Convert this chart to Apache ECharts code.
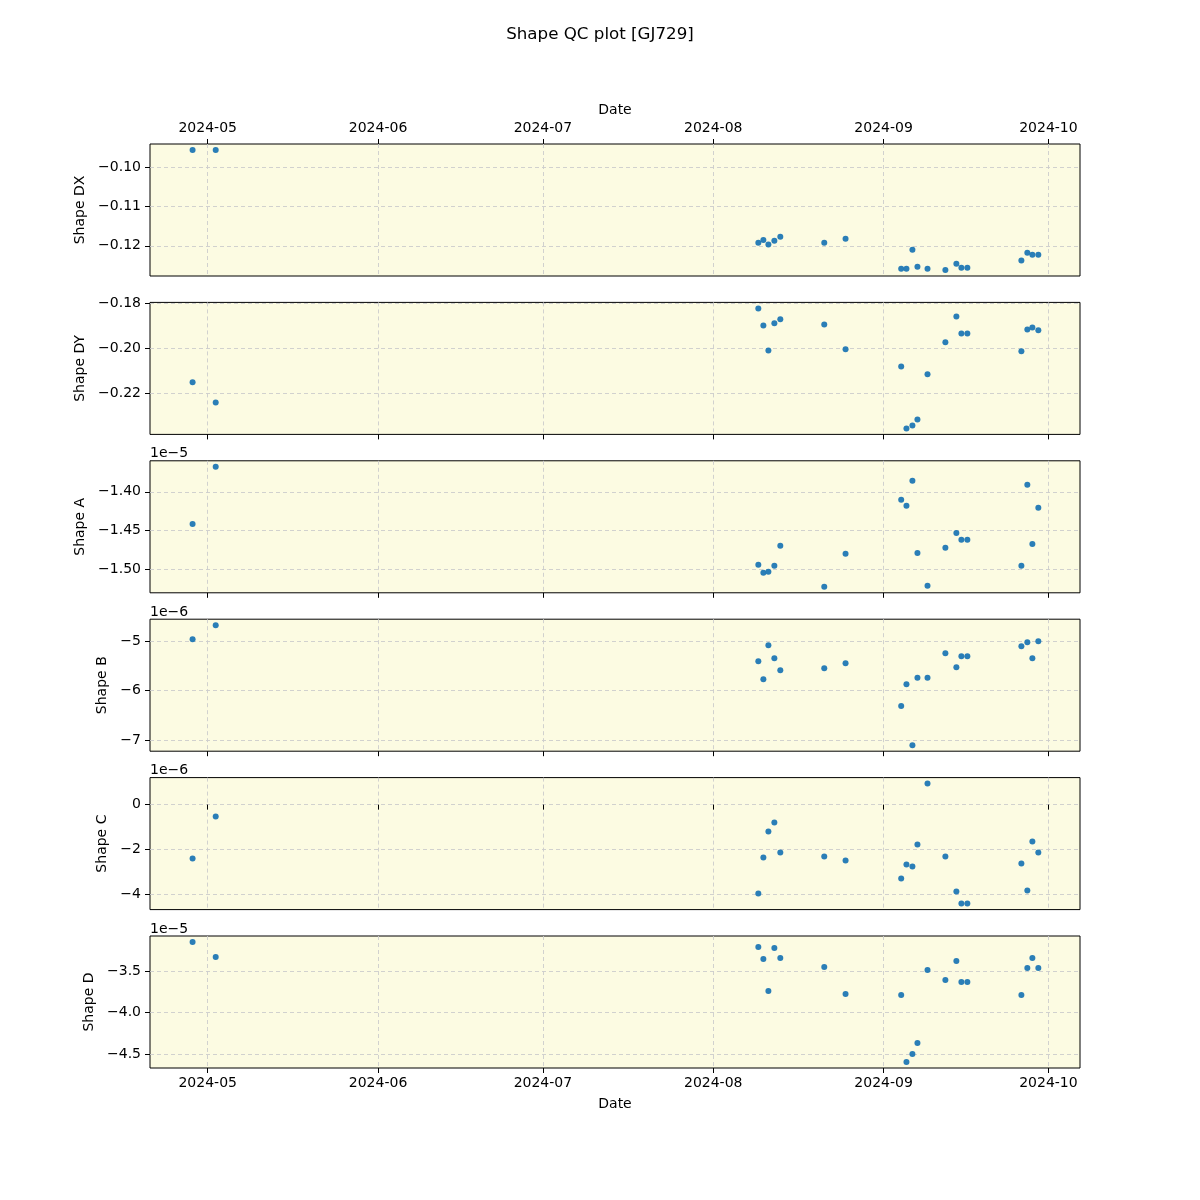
<!DOCTYPE html>
<html><head><meta charset="utf-8">
<script src="https://cdn.jsdelivr.net/npm/echarts@6/dist/echarts.min.js"></script>
<style>html,body{margin:0;padding:0;background:#fff}#c{width:1200px;height:1200px}</style>
</head><body><div id="c"></div>
<script>
// ---- data ----
const dates = ['2024-04-28T06:00','2024-05-02T11:00','2024-08-09T05:00','2024-08-10T03:00','2024-08-11T01:00','2024-08-12T03:00','2024-08-13T05:00','2024-08-21T05:00','2024-08-25T02:00','2024-09-04T05:00','2024-09-05T04:00','2024-09-06T06:00','2024-09-07T04:00','2024-09-09T00:00','2024-09-12T06:00','2024-09-14T06:00','2024-09-15T04:00','2024-09-16T06:00','2024-09-26T02:00','2024-09-27T04:00','2024-09-28T02:00','2024-09-29T04:00'];
const shapeDX = [-0.0955,-0.0955,-0.1192,-0.1185,-0.1197,-0.1187,-0.1177,-0.1192,-0.1182,-0.1259,-0.1259,-0.1210,-0.1254,-0.1259,-0.1262,-0.1246,-0.1256,-0.1256,-0.1238,-0.1218,-0.1223,-0.1223];
const shapeDY = [-0.2152,-0.2242,-0.1821,-0.1897,-0.2009,-0.1888,-0.1870,-0.1893,-0.2004,-0.2081,-0.2358,-0.2345,-0.2318,-0.2116,-0.1973,-0.1857,-0.1933,-0.1933,-0.2013,-0.1915,-0.1906,-0.1919];
const shapeA = [-1.4414,-1.3678,-1.4942,-1.5045,-1.5032,-1.4955,-1.4697,-1.5225,-1.4800,-1.4103,-1.4180,-1.3858,-1.4788,-1.5212,-1.4723,-1.4530,-1.4620,-1.4620,-1.4955,-1.3910,-1.4672,-1.4206]; // x1e-5
const shapeB = [-4.960,-4.677,-5.404,-5.768,-5.081,-5.343,-5.586,-5.545,-5.444,-6.307,-5.869,-7.099,-5.740,-5.740,-5.242,-5.525,-5.303,-5.303,-5.101,-5.020,-5.343,-5.000]; // x1e-6
const shapeC = [-2.400,-0.533,-3.956,-2.356,-1.200,-0.800,-2.133,-2.311,-2.489,-3.289,-2.667,-2.756,-1.778,0.933,-2.311,-3.867,-4.400,-4.400,-2.622,-3.822,-1.644,-2.133]; // x1e-6
const shapeD = [-3.152,-3.332,-3.212,-3.356,-3.740,-3.224,-3.344,-3.452,-3.776,-3.788,-4.592,-4.497,-4.364,-3.488,-3.608,-3.380,-3.632,-3.632,-3.788,-3.464,-3.344,-3.464]; // x1e-5

const panelNames = ['Shape DX','Shape DY','Shape A','Shape B','Shape C','Shape D'];
const panelValues = [shapeDX, shapeDY, shapeA, shapeB, shapeC, shapeD];
const offsetTexts = ['', '', '1e\u22125', '1e\u22126', '1e\u22126', '1e\u22125'];
const yTicks = [[-0.12,-0.11,-0.10],[-0.22,-0.20,-0.18],[-1.50,-1.45,-1.40],[-7,-6,-5],[-4,-2,0],[-4.5,-4.0,-3.5]];
const yDecimals = [2,2,2,0,0,1];
const xTickDates = ['2024-05-01','2024-06-01','2024-07-01','2024-08-01','2024-09-01','2024-10-01'];
const xTickLabels = ['2024-05','2024-06','2024-07','2024-08','2024-09','2024-10'];
const xRange = ['2024-04-20T12:00','2024-10-06T18:00'];
const titleText = 'Shape QC plot [GJ729]';
const xName = 'Date';

// ---- layout ----
const FONT = 'DejaVu Sans';
const LEFT = 150, WIDTH = 930, TOP0 = 144, H = 132, STEP = 158.4;
const nameGaps = [61,61,61,39,39,51];
const ts = s => Date.parse(s + (s.length > 10 ? ':00Z' : 'T00:00:00Z'));
const xVals = dates.map(ts);
const xTicks = xTickDates.map(ts);
const xLabelOf = v => { const i = xTicks.indexOf(v); return i >= 0 ? xTickLabels[i] : ''; };
const fmtY = d => v => (v < 0 ? '\u2212' : '') + Math.abs(v).toFixed(d);

const grids = [], xAxes = [], yAxes = [], series = [], graphics = [];
for (let i = 0; i < 6; i++) {
  const top = TOP0 + STEP * i;
  grids.push({left: LEFT, top: top, width: WIDTH, height: H, show: true,
    backgroundColor: '#fcfbe2', borderColor: '#000', borderWidth: 1, containLabel: false});
  const isFirst = i === 0, isLast = i === 5;
  xAxes.push({type: 'value', gridIndex: i, min: ts(xRange[0]), max: ts(xRange[1]),
    position: isFirst ? 'top' : 'bottom',
    name: (isFirst || isLast) ? xName : '', nameLocation: 'middle', nameGap: isFirst ? 27 : 29,
    nameTextStyle: {fontFamily: FONT, fontSize: 14, color: '#000'},
    axisLine: {show: false},
    axisTick: {show: true, length: 5, inside: false, lineStyle: {color: '#000'}, customValues: xTicks},
    axisLabel: {show: isFirst || isLast, customValues: xTicks, formatter: xLabelOf,
      fontFamily: FONT, fontSize: 14, color: '#000', margin: isFirst ? 9 : 8},
    splitLine: {show: true, lineStyle: {color: '#cccccc', type: [4, 3], width: 0.9}}
  });
  const vals = panelValues[i];
  yAxes.push({type: 'value', gridIndex: i, scale: true,
    min: v => v.min - 0.05 * (v.max - v.min), max: v => v.max + 0.05 * (v.max - v.min),
    name: panelNames[i], nameLocation: 'middle', nameRotate: 90, nameGap: nameGaps[i],
    nameTextStyle: {fontFamily: FONT, fontSize: 14, color: '#000'},
    axisLine: {show: false},
    axisTick: {show: true, length: 5, lineStyle: {color: '#000'}, customValues: yTicks[i]},
    axisLabel: {customValues: yTicks[i], formatter: fmtY(yDecimals[i]),
      fontFamily: FONT, fontSize: 14, color: '#000', margin: 9},
    splitLine: {show: true, lineStyle: {color: '#cccccc', type: [4, 3], width: 0.9}}
  });
  series.push({type: 'scatter', xAxisIndex: i, yAxisIndex: i, symbolSize: 6,
    itemStyle: {color: '#1f77b4', opacity: 0.95},
    data: xVals.map((x, k) => [x, vals[k]])});
  if (offsetTexts[i]) {
    graphics.push({type: 'text', left: LEFT, top: top - 14,
      style: {text: offsetTexts[i], font: '14px "DejaVu Sans"', fill: '#000'}});
  }
}

const chart = echarts.init(document.getElementById('c'), null, {renderer: 'canvas'});
chart.setOption({
  animation: false,
  backgroundColor: '#fff',
  title: {text: titleText, left: 'center', top: 21,
    textStyle: {fontFamily: FONT, fontSize: 16.7, fontWeight: 'normal', color: '#000'}},
  grid: grids, xAxis: xAxes, yAxis: yAxes, series: series, graphic: graphics
});
</script></body></html>
